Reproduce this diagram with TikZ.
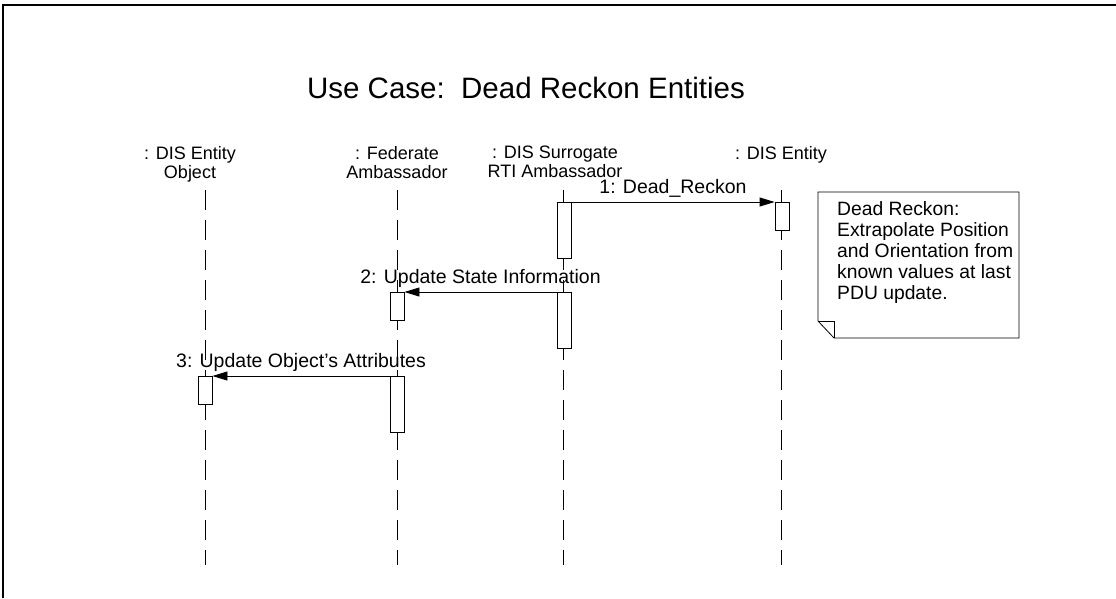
\documentclass[tikz,border=0pt]{standalone}
\usepackage{fontspec}
\setmainfont{Liberation Sans}
\usepackage{tikz}
\usetikzlibrary{arrows.meta, positioning}

\begin{document}
\begin{tikzpicture}[
    x=1pt, y=-1pt,
    every node/.style={font=\fontsize{19}{20}\selectfont, inner sep=0pt},
    % Actor labels
    actorlbl/.style={anchor=north, align=center, font=\fontsize{18}{19}\selectfont},
    % Lifeline
    lifeline/.style={line width=0.9pt, dash pattern=on 20pt off 10pt},
    % Activation box
    actbox/.style={
      rectangle, draw, line width=0.8pt, fill=white, anchor=north,
      minimum width=14pt, minimum height=28pt
    },
    % Message arrow
    msgarr/.style={-{Triangle[length=15pt, width=9pt]}, line width=0.8pt},
    msglbl/.style={above=8.5pt, text depth=0pt, font=\fontsize{19.5}{20}\selectfont}
  ]
  \useasboundingbox (0,0) rectangle (1116,598);

  % ============ Frame ============
  \draw[line width=1.4pt] (3,598) -- (3,5) -- (1116,5);

  % ============ Title ============
  \node[font=\fontsize{29.5}{30}\selectfont] (title) at (526,88) {Use Case:\ \ Dead Reckon Entities};

  % ============ Actors ============
  \node[actorlbl] (obj) at (190,146) {: DIS Entity\\Object};
  \node[actorlbl] (fed) at (397,146) {: Federate\\Ambassador};
  \node[actorlbl] (sur) at (555,146) {: DIS Surrogate\\RTI Ambassador};
  \node[actorlbl] (ent) at (781,146) {: DIS Entity};

  % ============ Lifelines ============
  \draw[lifeline] (205,190) -- (205,565);
  \draw[lifeline] (397,190) -- (397,565);
  \draw[lifeline] (563,190) -- (563,565);
  \draw[lifeline] (781,190) -- (781,565);

  % ============ Step 1: Dead_Reckon ============
  \node[actbox, minimum height=56pt] (sur1) at (564,202) {};
  \node[actbox, xshift=1pt] (ent1) at (781,202) {};
  \draw[msgarr] (sur1.north east) -- (ent1.north west)
    node[midway, msglbl] (lbl1) {1: Dead\_Reckon};

  % ============ Step 2: Update State Information ============
  \node[actbox, minimum height=56pt] (sur2) at (564,292) {};
  \node[actbox] (fed2) at (397,292) {};
  \draw[msgarr] (sur2.north west) -- (fed2.north east)
    node[midway, msglbl] (lbl2) {2: Update State Information};

  % ============ Step 3: Update Object's Attributes ============
  \node[actbox, minimum height=56pt] (fed3) at (397,376) {};
  \node[actbox] (obj3) at (205,376) {};
  \draw[msgarr] (fed3.north west) -- (obj3.north east)
    node[midway, msglbl] (lbl3) {3: Update Object's Attributes};

  % ============ Note ============
  \draw[line width=0.8pt] (818,192) -- (1019,192) -- (1019,338) -- (834,338) -- (818,321) -- cycle;
  \draw[line width=0.8pt] (818,321) -- (834,321) -- (834,338);
  \node[anchor=north west, align=left, font=\fontsize{19.3}{21}\selectfont] (note) at (837,201)
    {Dead Reckon:\\Extrapolate Position\\and Orientation from\\known values at last\\PDU update.};

\end{tikzpicture}
\end{document}
